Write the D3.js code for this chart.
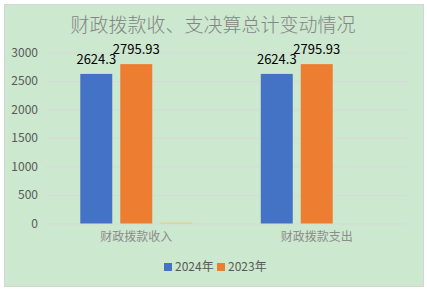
<!DOCTYPE html>
<html>
<head>
<meta charset="utf-8">
<script src="https://cdn.jsdelivr.net/npm/d3@7"></script>
<style>
  body { margin: 0; background: #fff; }
  text { font-family: "Noto Sans CJK SC", "Noto Sans", sans-serif; }
</style>
</head>
<body>
<section></section>
<script>
const WIDTH = 427;
const HEIGHT = 289;

// chart data
const categories = ["财政拨款收入", "财政拨款支出"];
const seriesNames = ["2024年", "2023年", "变动"];
const values2024 = [2624.3, 2624.3];
const values2023 = [2795.93, 2795.93];
const valuesChange = [15, 0];
const yTicks = [0, 500, 1000, 1500, 2000, 2500, 3000];
const colors = ["#4472C4", "#ED7D31", "#F2C46A"];

const series = [values2024, values2023, valuesChange];

// plot area
const PLOT = { left: 46, right: 407, top: 52.5, bottom: 223.5 };

const svg = d3.select("section")
    .append("svg")
    .attr("width", WIDTH)
    .attr("height", HEIGHT);

// chart background with thin border
svg.append("rect")
    .attr("x", 4.5).attr("y", 4.5)
    .attr("width", 419).attr("height", 282)
    .attr("fill", "#CCE8CF")
    .attr("stroke", "#D4D4D4");

svg.append("text")
    .attr("x", 213).attr("y", 32)
    .attr("text-anchor", "middle")
    .attr("font-size", 19)
    .attr("font-weight", 300)
    .attr("fill", "#858585")
    .text("财政拨款收、支决算总计变动情况");

const yScale = d3.scaleLinear()
    .domain([0, 3000])
    .range([PLOT.bottom, PLOT.top]);

const xScale = d3.scaleBand()
    .domain(categories)
    .range([PLOT.left, PLOT.right])
    .paddingInner(0.38)
    .paddingOuter(0.19);

const xInner = d3.scaleBand()
    .domain(d3.range(series.length))
    .range([0, xScale.bandwidth()])
    .paddingInner(0.2);

// gridlines + y labels
const yAxis = d3.axisLeft(yScale)
    .tickValues(yTicks)
    .tickFormat(d3.format("d"))
    .tickSize(-(PLOT.right - PLOT.left))
    .tickPadding(8);

const gy = svg.append("g")
    .attr("transform", "translate(" + PLOT.left + ",0)")
    .call(yAxis);
gy.select(".domain").remove();
gy.selectAll(".tick line").attr("stroke", "#D9D9D9");
gy.selectAll(".tick text")
    .attr("fill", "#595959")
    .attr("font-size", 12)
    .attr("font-family", "\"Noto Sans\", sans-serif");

// x axis labels
const xAxis = d3.axisBottom(xScale).tickSize(0).tickPadding(9);
const gx = svg.append("g")
    .attr("transform", "translate(0," + PLOT.bottom + ")")
    .call(xAxis);
gx.select(".domain").remove();
gx.selectAll(".tick text")
    .attr("fill", "#8C8C8C")
    .attr("font-size", 12)
    .attr("font-family", "\"Noto Sans CJK SC\", sans-serif");

// bars
series.forEach((vals, si) => {
    svg.selectAll(".bar-" + si)
        .data(vals.map((v, i) => ({cat: categories[i], v: v})))
        .enter()
        .append("rect")
        .attr("class", "bar-" + si)
        .attr("x", d => xScale(d.cat) + xInner(si))
        .attr("width", xInner.bandwidth())
        .attr("y", d => yScale(d.v))
        .attr("height", d => yScale(0) - yScale(d.v))
        .attr("fill", colors[si]);

    // value labels only for the two year series
    if (si < 2) {
        svg.selectAll(".label-" + si)
            .data(vals.map((v, i) => ({cat: categories[i], v: v})))
            .enter()
            .append("text")
            .attr("x", d => xScale(d.cat) + xInner(si) + xInner.bandwidth() / 2)
            .attr("y", d => yScale(d.v) - 10)
            .attr("text-anchor", "middle")
            .attr("font-size", 13)
            .attr("font-family", "\"Noto Sans\", sans-serif")
            .attr("fill", "#000")
            .text(d => d.v);
    }
});

// legend
const legendItems = seriesNames.slice(0, 2);
const legendX = [164, 217];
const legend = svg.selectAll(".legend")
    .data(legendItems)
    .enter()
    .append("g")
    .attr("transform", (d, i) => "translate(" + legendX[i] + ",263)");
legend.append("rect")
    .attr("width", 8).attr("height", 8)
    .attr("fill", (d, i) => colors[i]);
legend.append("text")
    .attr("x", 11).attr("y", 8)
    .attr("font-size", 12)
    .attr("fill", "#595959")
    .text(d => d);
</script>
</body>
</html>
